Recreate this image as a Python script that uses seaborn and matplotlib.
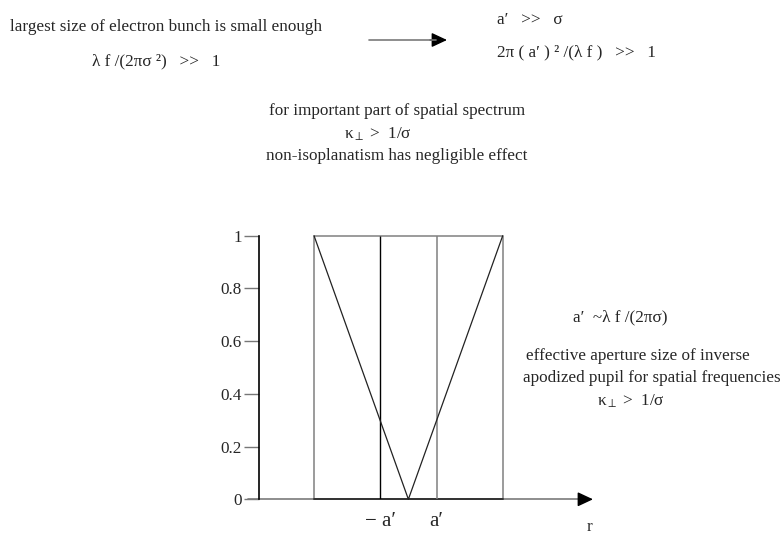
import matplotlib
matplotlib.use("Agg")
import matplotlib.pyplot as plt
import seaborn as sns
import pandas as pd

# Pupil transmission profile (V shape) across the aperture
r_profile = [-1.0, 0.0, 1.0]
amp_profile = [1.0, 0.0, 1.0]

# Rectangular aperture outline
box_r = [-1.0, -1.0, 1.0, 1.0]
box_amp = [0.0, 1.0, 1.0, 0.0]

# Effective aperture half-size a'
a_prime = 0.3

y_ticks = [0, 0.2, 0.4, 0.6, 0.8, 1]
y_tick_labels = ["0", "0.2", "0.4", "0.6", "0.8", "1"]
x_tick_labels = ["\u2212 a\u2032", "a\u2032"]

sns.set_theme(style="white")
plt.rcParams["font.family"] = ["Liberation Serif", "DejaVu Serif"]
plt.rcParams["mathtext.fontset"] = "custom"
plt.rcParams["mathtext.rm"] = "Liberation Serif"
plt.rcParams["mathtext.it"] = "Liberation Serif"
plt.rcParams["mathtext.bf"] = "Liberation Serif:bold"

W, H = 784, 537
FS = 12.3
fig = plt.figure(figsize=(W / 100, H / 100), dpi=100)
fig.patch.set_facecolor("white")

ax_left, ax_right, ax_top, ax_bot = 248, 593, 235.7, 499.3
ax = fig.add_axes([ax_left / W, (H - ax_bot) / H,
                   (ax_right - ax_left) / W, (ax_bot - ax_top) / H])
ax.set_facecolor("white")
x_min, x_max = -1.70, 1.957
y_axis_at = -1.58
ax.set_xlim(x_min, x_max)
ax.set_ylim(0, 1)

# x axis with arrow head
ax.plot([x_min, x_max - 0.12], [0, 0], color="#7a7a7a", lw=1.2, clip_on=False)
ax.annotate("", xy=(x_max, 0), xytext=(x_max - 0.14, 0),
            arrowprops=dict(arrowstyle="-|>,head_length=0.47,head_width=0.22",
                            mutation_scale=20, color="black", lw=1,
                            shrinkA=0, shrinkB=0),
            annotation_clip=False)

# aperture box, inner lines and V profile
box_df = pd.DataFrame({"r": box_r, "amp": box_amp})
sns.lineplot(data=box_df, x="r", y="amp", sort=False, estimator=None,
             color="#808080", lw=1.1, ax=ax, clip_on=False)
ax.plot([box_r[0], box_r[-1]], [0, 0], color="#333333", lw=1.4, clip_on=False)
ax.vlines([-a_prime], 0, 1, color="black", lw=1.0)
ax.vlines([a_prime], 0, 1, color="#808080", lw=1.1)
prof_df = pd.DataFrame({"r": r_profile, "amp": amp_profile})
sns.lineplot(data=prof_df, x="r", y="amp", sort=False, estimator=None,
             color="#222222", lw=0.9, ax=ax, clip_on=False)

for side in ["top", "right", "bottom"]:
    ax.spines[side].set_visible(False)
ax.spines["left"].set_position(("data", y_axis_at))
ax.spines["left"].set_color("black")
ax.spines["left"].set_linewidth(1.2)

ax.set_yticks(y_ticks, y_tick_labels)
ax.tick_params(axis="y", direction="out", length=11, width=1.0,
               color="#777777", pad=1.5, labelsize=FS, left=True)
ax.set_xticks([-a_prime, a_prime], x_tick_labels)
ax.tick_params(axis="x", length=0, pad=9, labelsize=15, bottom=True)
ax.set_xlabel("")
ax.set_ylabel("")
ax.text(1.925, -0.105, "r", ha="center", va="center", fontsize=FS)
ax.grid(False)


def ftext(x, y, s, ha="center", **kw):
    fig.text(x / W, 1 - y / H, s, ha=ha, va="center", fontsize=kw.pop("fontsize", FS), **kw)


# top-left condition
ftext(165.5, 27, "largest size of electron bunch is small enough")
ftext(156, 61, "\u03bb f /(2\u03c0\u03c3 \u00b2)   >>   1")

# implication arrow
fig.add_artist(plt.Line2D([369 / W, 436 / W], [1 - 40 / H, 1 - 40 / H],
                          color="#7a7a7a", lw=1.2))
fig.add_artist(matplotlib.patches.FancyArrowPatch(
    (430 / W, 1 - 40 / H), (447 / W, 1 - 40 / H), transform=fig.transFigure,
    arrowstyle="-|>,head_length=0.47,head_width=0.22", mutation_scale=20,
    color="black", lw=1, shrinkA=0, shrinkB=0))

# top-right consequence
ftext(497, 20, "a\u2032   >>   \u03c3", ha="left")
ftext(497, 52, "2\u03c0 ( a\u2032 ) \u00b2 /(\u03bb f )   >>   1", ha="left")

# middle note
ftext(397, 111, "for important part of spatial spectrum")
ftext(378, 134, r"$\kappa_{\perp}$ >  1/" + "\u03c3")
ftext(397, 156, "non-isoplanatism has negligible effect")

# right-hand note
ftext(620, 317, "a\u2032  ~\u03bb f /(2\u03c0\u03c3)")
ftext(638, 356, "effective aperture size of inverse")
ftext(652, 378, "apodized pupil for spatial frequencies")
ftext(631, 401, r"$\kappa_{\perp}$ >  1/" + "\u03c3")

fig.savefig("out.png", dpi=100, facecolor="white")
